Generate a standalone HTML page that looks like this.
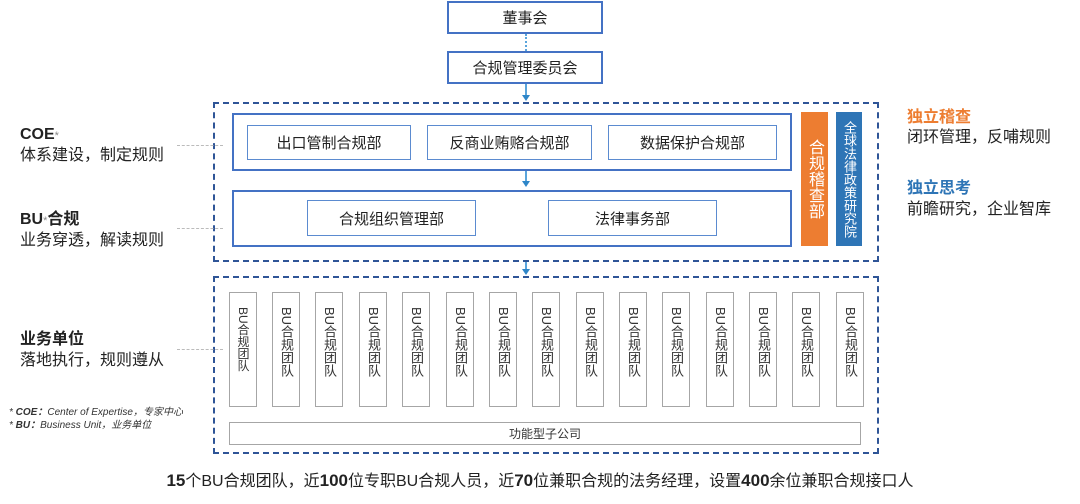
<!DOCTYPE html>
<html><head><meta charset="utf-8"><style>
body{margin:0;width:1080px;height:504px;background:#fff;position:relative;overflow:hidden;font-family:"Liberation Sans","Noto Sans CJK SC",sans-serif;color:#222}
div{position:absolute;box-sizing:border-box}
.b{border:2px solid #4472c4;background:#fff;display:flex;align-items:center;justify-content:center;font-size:15px}
.s{border:1.5px solid #5b8bd0;display:flex;align-items:center;justify-content:center;font-size:15px}
.d{border:2px dashed #2f5597}
.bu{border:1.5px solid #a6a6a6;width:28px;top:292px;height:115px;font-size:13px;writing-mode:vertical-rl;text-orientation:mixed;padding-top:14px;line-height:26px;color:#333;text-align:left}
.v{writing-mode:vertical-rl;text-orientation:upright;color:#fff;display:flex;align-items:center;justify-content:center}
.t{font-size:16px;white-space:nowrap;line-height:20px}
.c{border-top:1px dashed #bbb;height:0}
.ar{width:0;height:0;border-left:4px solid transparent;border-right:4px solid transparent;border-top:6px solid #2e86c8}
</style></head><body>
<div class="b" style="left:447px;top:1px;width:156px;height:33px">董事会</div>
<div style="left:525px;top:34px;height:17px;border-left:2px dotted #5aa5dc"></div>
<div class="b" style="left:447px;top:51px;width:156px;height:33px">合规管理委员会</div>
<div style="left:525px;top:84px;height:12px;border-left:2px solid #5aa5dc"></div>
<div class="ar" style="left:522px;top:95px"></div>

<div class="d" style="left:213px;top:102px;width:666px;height:160px"></div>
<div class="b" style="left:232px;top:113px;width:560px;height:58px"></div>
<div class="s" style="left:247px;top:125px;width:164px;height:35px">出口管制合规部</div>
<div class="s" style="left:427px;top:125px;width:165px;height:35px">反商业贿赂合规部</div>
<div class="s" style="left:608px;top:125px;width:169px;height:35px">数据保护合规部</div>
<div style="left:525px;top:171px;height:11px;border-left:2px solid #5aa5dc"></div>
<div class="ar" style="left:522px;top:181px"></div>
<div class="b" style="left:232px;top:190px;width:560px;height:57px"></div>
<div class="s" style="left:307px;top:200px;width:169px;height:36px">合规组织管理部</div>
<div class="s" style="left:548px;top:200px;width:169px;height:36px">法律事务部</div>
<div class="v" style="left:801px;top:112px;width:27px;height:134px;background:#ed7d31;font-size:16px;line-height:27px">合规稽查部</div>
<div class="v" style="left:836px;top:112px;width:26px;height:134px;background:#2e75b6;font-size:13px;line-height:26px">全球法律政策研究院</div>

<div style="left:525px;top:262px;height:8px;border-left:2px solid #5aa5dc"></div>
<div class="ar" style="left:522px;top:269px"></div>

<div class="d" style="left:213px;top:276px;width:666px;height:178px"></div>
<div class="bu" style="left:229px;font-size:12px">BU合规团队</div>
<div class="bu" style="left:272px">BU合规团队</div>
<div class="bu" style="left:315px">BU合规团队</div>
<div class="bu" style="left:359px">BU合规团队</div>
<div class="bu" style="left:402px">BU合规团队</div>
<div class="bu" style="left:446px">BU合规团队</div>
<div class="bu" style="left:489px">BU合规团队</div>
<div class="bu" style="left:532px">BU合规团队</div>
<div class="bu" style="left:576px">BU合规团队</div>
<div class="bu" style="left:619px">BU合规团队</div>
<div class="bu" style="left:662px">BU合规团队</div>
<div class="bu" style="left:706px">BU合规团队</div>
<div class="bu" style="left:749px">BU合规团队</div>
<div class="bu" style="left:792px">BU合规团队</div>
<div class="bu" style="left:836px">BU合规团队</div>
<div style="left:229px;top:422px;width:632px;height:23px;border:1.5px solid #a6a6a6;font-size:12px;display:flex;align-items:center;justify-content:center;color:#333">功能型子公司</div>

<div class="t" style="left:20px;top:125px"><b>COE</b><span style="color:#888;font-size:11px">*</span></div>
<div class="t" style="left:20px;top:146px">体系建设，制定规则</div>
<div class="t" style="left:20px;top:210px"><b>BU</b><span style="color:#888;font-size:11px">*</span><b>合规</b></div>
<div class="t" style="left:20px;top:231px">业务穿透，解读规则</div>
<div class="t" style="left:20px;top:330px"><b>业务单位</b></div>
<div class="t" style="left:20px;top:351px">落地执行，规则遵从</div>
<div class="c" style="left:177px;top:145px;width:46px"></div>
<div class="c" style="left:177px;top:228px;width:46px"></div>
<div class="c" style="left:177px;top:349px;width:46px"></div>
<div style="left:9px;top:403px;font-size:10px;font-style:italic;white-space:nowrap;color:#333">* <b>COE：</b>Center of Expertise，专家中心</div>
<div style="left:9px;top:416px;font-size:10px;font-style:italic;white-space:nowrap;color:#333">* <b>BU：</b>Business Unit，业务单位</div>

<div class="t" style="left:907px;top:108px;color:#ed7d31;font-weight:bold">独立稽查</div>
<div class="t" style="left:907px;top:128px">闭环管理，反哺规则</div>
<div class="t" style="left:907px;top:179px;color:#2e75b6;font-weight:bold">独立思考</div>
<div class="t" style="left:907px;top:200px">前瞻研究，企业智库</div>

<div class="t" style="left:0;width:1080px;top:471px;text-align:center;font-size:16px"><b style="font-size:17px">15</b>个BU合规团队，近<b style="font-size:17px">100</b>位专职BU合规人员，近<b style="font-size:17px">70</b>位兼职合规的法务经理，设置<b style="font-size:17px">400</b>余位兼职合规接口人</div>
</body></html>
